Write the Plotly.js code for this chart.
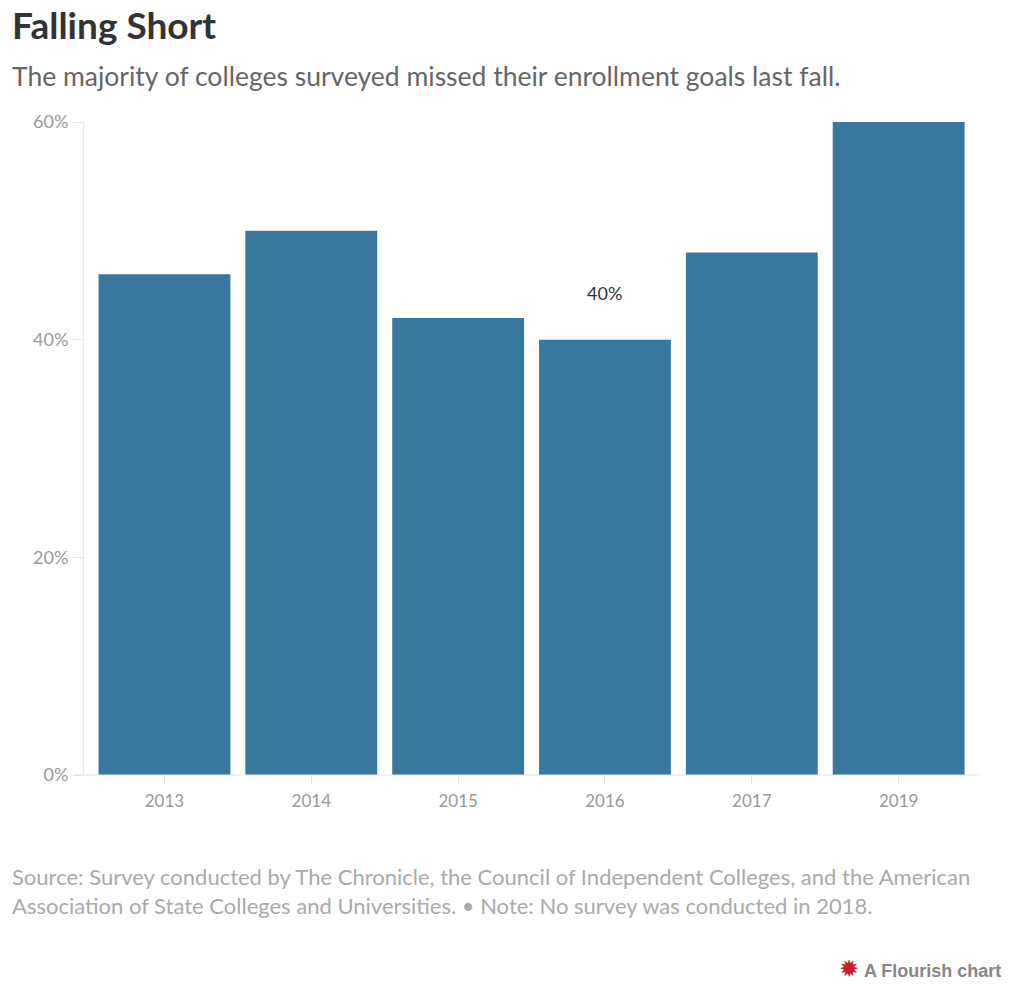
<!DOCTYPE html>
<html>
<head>
<meta charset="utf-8">
<script src="https://cdn.plot.ly/plotly-3.0.1.min.js"></script>
<style>
  html, body { margin: 0; padding: 0; background: #fff; }
  #chart { width: 1024px; height: 984px; }
</style>
</head>
<body>
<div id="chart"></div>
<script>
// Share of colleges that missed their fall enrollment goals, by survey year
const years = ['2013', '2014', '2015', '2016', '2017', '2019'];
const missedShare = [46, 50, 42, 40, 48, 60];
const yTickValues = [0, 20, 40, 60];
const yTickLabels = ['0%', '20%', '40%', '60%'];
const labelledYear = '2016';

const FONT = 'Lato, "Open Sans", sans-serif';
const labelledIndex = years.indexOf(labelledYear);
const labelledValue = missedShare[labelledIndex];

const trace = {
  type: 'bar',
  x: years,
  y: missedShare,
  marker: { color: '#38789f' },
  hoverinfo: 'none'
};

const layout = {
  width: 1024,
  height: 984,
  margin: { l: 84, r: 44, t: 122, b: 209 },
  paper_bgcolor: '#ffffff',
  plot_bgcolor: '#ffffff',
  showlegend: false,
  bargap: 0.102,
  font: { family: FONT },
  xaxis: {
    type: 'category',
    range: [-0.548, 5.554],
    showgrid: false,
    zeroline: false,
    showline: false,
    ticks: 'outside',
    ticklen: 8,
    tickcolor: '#e4e4e4',
    ticklabelstandoff: 3,
    tickfont: { family: FONT, size: 17, color: '#999999' },
    fixedrange: true
  },
  yaxis: {
    range: [0, 60],
    tickvals: yTickValues,
    ticktext: yTickLabels,
    showgrid: false,
    zeroline: false,
    showline: true,
    linecolor: '#e8e8e8',
    linewidth: 1,
    ticks: 'outside',
    ticklen: 10,
    tickcolor: '#e4e4e4',
    ticklabelstandoff: 1,
    tickfont: { family: FONT, size: 18, color: '#999999' },
    fixedrange: true
  },
  shapes: [
    // baseline along the bottom of the plot
    { type: 'line', xref: 'paper', yref: 'paper', x0: -0.0123, x1: 1, y0: 0, y1: 0,
      line: { color: '#e4e4e4', width: 1 } }
  ],
  annotations: [
    { text: '<b>Falling Short</b>', xref: 'paper', yref: 'paper', x: -0.0826, y: 1.150,
      xanchor: 'left', yanchor: 'middle', showarrow: false,
      font: { family: FONT, size: 37, color: '#333333' } },
    { text: 'The majority of colleges surveyed missed their enrollment goals last fall.',
      xref: 'paper', yref: 'paper', x: -0.0826, y: 1.0704,
      xanchor: 'left', yanchor: 'middle', showarrow: false,
      font: { family: FONT, size: 26.5, color: '#666666' } },
    { text: labelledValue + '%', xref: 'x', yref: 'y', x: labelledIndex, y: labelledValue,
      yshift: 47, xanchor: 'center', yanchor: 'middle', showarrow: false,
      font: { family: FONT, size: 18, color: '#333333' } },
    { text: 'Source: Survey conducted by The Chronicle, the Council of Independent Colleges, and the American',
      xref: 'paper', yref: 'paper', x: -0.0826, y: -0.1562,
      xanchor: 'left', yanchor: 'middle', showarrow: false,
      font: { family: FONT, size: 22, color: '#aaaaaa' } },
    { text: 'Association of State Colleges and Universities. • Note: No survey was conducted in 2018.',
      xref: 'paper', yref: 'paper', x: -0.0826, y: -0.1991,
      xanchor: 'left', yanchor: 'middle', showarrow: false,
      font: { family: FONT, size: 22, color: '#aaaaaa' } },
    { text: '<span style="color:#c8202a;font-size:24px">✹</span> <b>A Flourish chart</b>',
      xref: 'paper', yref: 'paper', x: 1.0257, y: -0.2956,
      xanchor: 'right', yanchor: 'middle', showarrow: false,
      font: { family: 'Liberation Sans, Arial, sans-serif', size: 18, color: '#888888' } }
  ]
};

Plotly.newPlot('chart', [trace], layout, { displayModeBar: false, staticPlot: true });
</script>
</body>
</html>
